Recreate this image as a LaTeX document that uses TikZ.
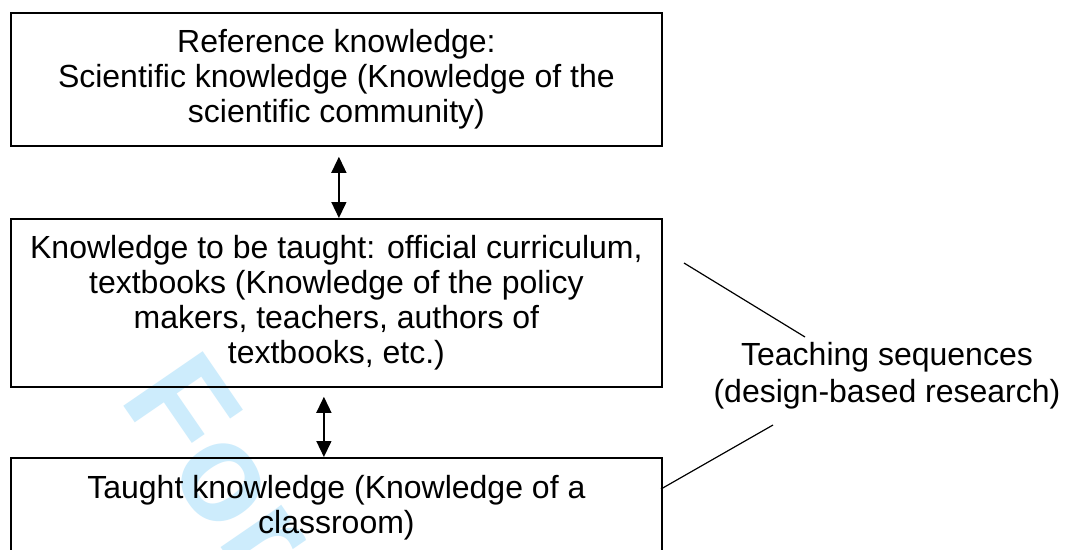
\documentclass[tikz,border=0pt]{standalone}
\usepackage{fontspec}
\setmainfont{Liberation Sans}
\usetikzlibrary{arrows.meta}
\definecolor{wmcol}{RGB}{205,236,252}
\begin{document}
\begin{tikzpicture}[x=1pt,y=-1pt,
  box/.style={draw,line width=1.8pt,minimum width=651pt,inner sep=0pt,
    align=center,anchor=north west,font=\fontsize{32}{35}\selectfont},
  lbl/.style={inner sep=0pt,align=center,font=\fontsize{32}{37}\selectfont},
  arr/.style={line width=1.4pt,{Triangle[width=15pt,length=16pt]}-{Triangle[width=15pt,length=16pt]}},
  link/.style={line width=1.2pt}]
\useasboundingbox (0,0) rectangle (1065,549);
\clip (0,0) rectangle (1065,549);
\fill[white] (0,0) rectangle (1065,549);
\node[text=wmcol,font=\fontsize{140}{140}\selectfont\bfseries,rotate=-55.5,anchor=base west,inner sep=0pt] (wm) at (118,398) {For};
\node[box,minimum height=133pt] (top) at (10,12) {Reference knowledge:\\Scientific knowledge (Knowledge of the\\scientific community)};
\node[box,minimum height=168pt] (mid) at (10,218) {Knowledge to be taught: official curriculum,\\textbooks (Knowledge of the policy\\makers, teachers, authors of\\textbooks, etc.)};
\node[box,minimum height=100pt] (bot) at (10,457) {Taught knowledge (Knowledge of a\\classroom)};
\node[lbl] (ts) at (887,376) {Teaching sequences\\(design-based research)};
\draw[arr] ([xshift=2.5pt,yshift=-10pt]top.south) -- ([xshift=2.5pt]mid.north);
\draw[arr] ([xshift=-12.5pt,yshift=-9pt]mid.south) -- ([xshift=-12.5pt]bot.north);
\coordinate (l1a) at (684,263);
\coordinate (l1b) at (805,337);
\coordinate (l2a) at (661,489);
\coordinate (l2b) at (773,425);
\draw[link] (l1a) -- (l1b);
\draw[link] (l2a) -- (l2b);
\end{tikzpicture}
\end{document}
